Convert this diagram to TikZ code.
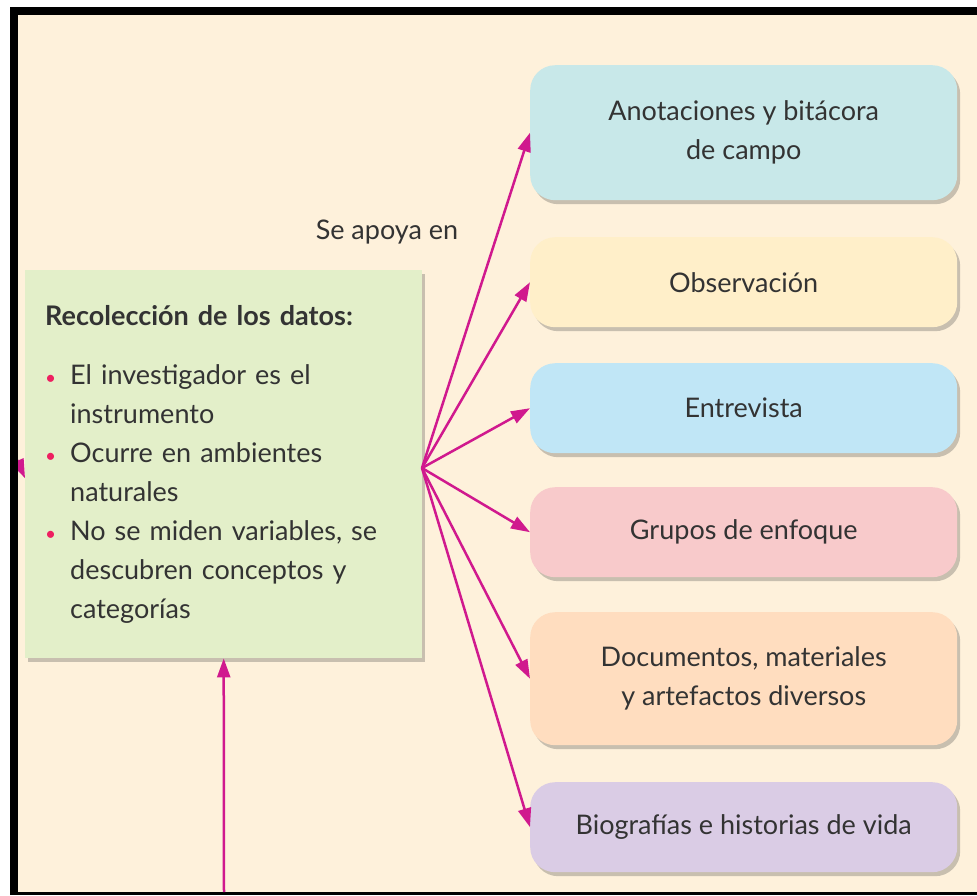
\documentclass[tikz,border=0pt]{standalone}
\usepackage{fontspec}
\setmainfont{Lato}
\usetikzlibrary{arrows.meta,shadows}
\definecolor{fondo}{HTML}{FEF1DB}
\definecolor{verde}{HTML}{E3EFC9}
\definecolor{cian}{HTML}{C8E8E9}
\definecolor{crema}{HTML}{FFEFC9}
\definecolor{celeste}{HTML}{C0E6F6}
\definecolor{rosa}{HTML}{F8CACB}
\definecolor{durazno}{HTML}{FFDDBF}
\definecolor{lila}{HTML}{DACCE5}
\definecolor{magenta}{HTML}{D0198E}
\definecolor{vineta}{HTML}{EE1F60}
\definecolor{texto}{HTML}{333333}
\newcommand{\punto}{\par\noindent\makebox[25pt][l]{\textcolor{vineta}{\fontsize{19}{19}\selectfont\textbullet}}}
\newcommand{\linea}{\par\noindent\hspace*{25pt}}

\begin{document}
\begin{tikzpicture}[x=1pt,y=-1pt,
    sombra/.style={drop shadow={shadow xshift=3pt,shadow yshift=-4pt,opacity=.3,fill=black!70}},
    datosbox/.style={sombra,fill=verde,anchor=north west,minimum width=397,minimum height=388,
        text width=357,inner xsep=20,align=left,text=texto,font=\fontsize{27}{39}\selectfont},
    tecnica/.style={sombra,rounded corners=25,anchor=north west,minimum width=427,
        inner sep=0,align=center,text=texto,font=\fontsize{27}{39}\selectfont},
    flecha/.style={magenta,line width=2.5pt,-{Triangle[length=19pt,width=13pt]}}]
    \fill[white] (0,0) rectangle (977,895);
    \fill[black] (10,7) rectangle (977,895);
    \fill[fondo] (18,15) rectangle (977,892);

    \node[datosbox] (datos) at (25,270) {\vspace*{8pt}\textbf{Recolección de los datos:}\par\vspace{12pt}
        \punto El investigador es el \linea instrumento
        \punto Ocurre en ambientes \linea naturales
        \punto No se miden variables, se \linea descubren conceptos y \linea categorías};

    \node[tecnica,fill=cian,minimum height=135] (anota) at (530,65) {Anotaciones y bitácora\\de campo};
    \node[tecnica,fill=crema,minimum height=90] (obser) at (530,237) {Observación};
    \node[tecnica,fill=celeste,minimum height=90] (entre) at (530,363) {Entrevista};
    \node[tecnica,fill=rosa,minimum height=90] (grupos) at (530,487) {Grupos de enfoque};
    \node[tecnica,fill=durazno,minimum height=133] (docs) at (530,612) {Documentos, materiales\\y artefactos diversos};
    \node[tecnica,fill=lila,minimum height=90] (bio) at (530,782) {Biografías e historias de vida};

    \node[text=texto,font=\fontsize{27}{39}\selectfont] (apoya) at (387,232) {Se apoya en};

    \coordinate (hub) at (422,468);
    \coordinate (abajo) at (224,892);
    \coordinate (izq) at (6,435);
    \foreach \t in {anota,obser,entre,grupos,docs,bio}
        \draw[flecha] (hub) -- (\t.west);
    \draw[flecha] (abajo) -- (datos.south);
    \draw[flecha] (izq) -- ([yshift=-14pt]datos.west);
    \fill[white] (0,0) rectangle (10,895);
    \fill[black] (10,7) rectangle (18,895);
\end{tikzpicture}
\end{document}
